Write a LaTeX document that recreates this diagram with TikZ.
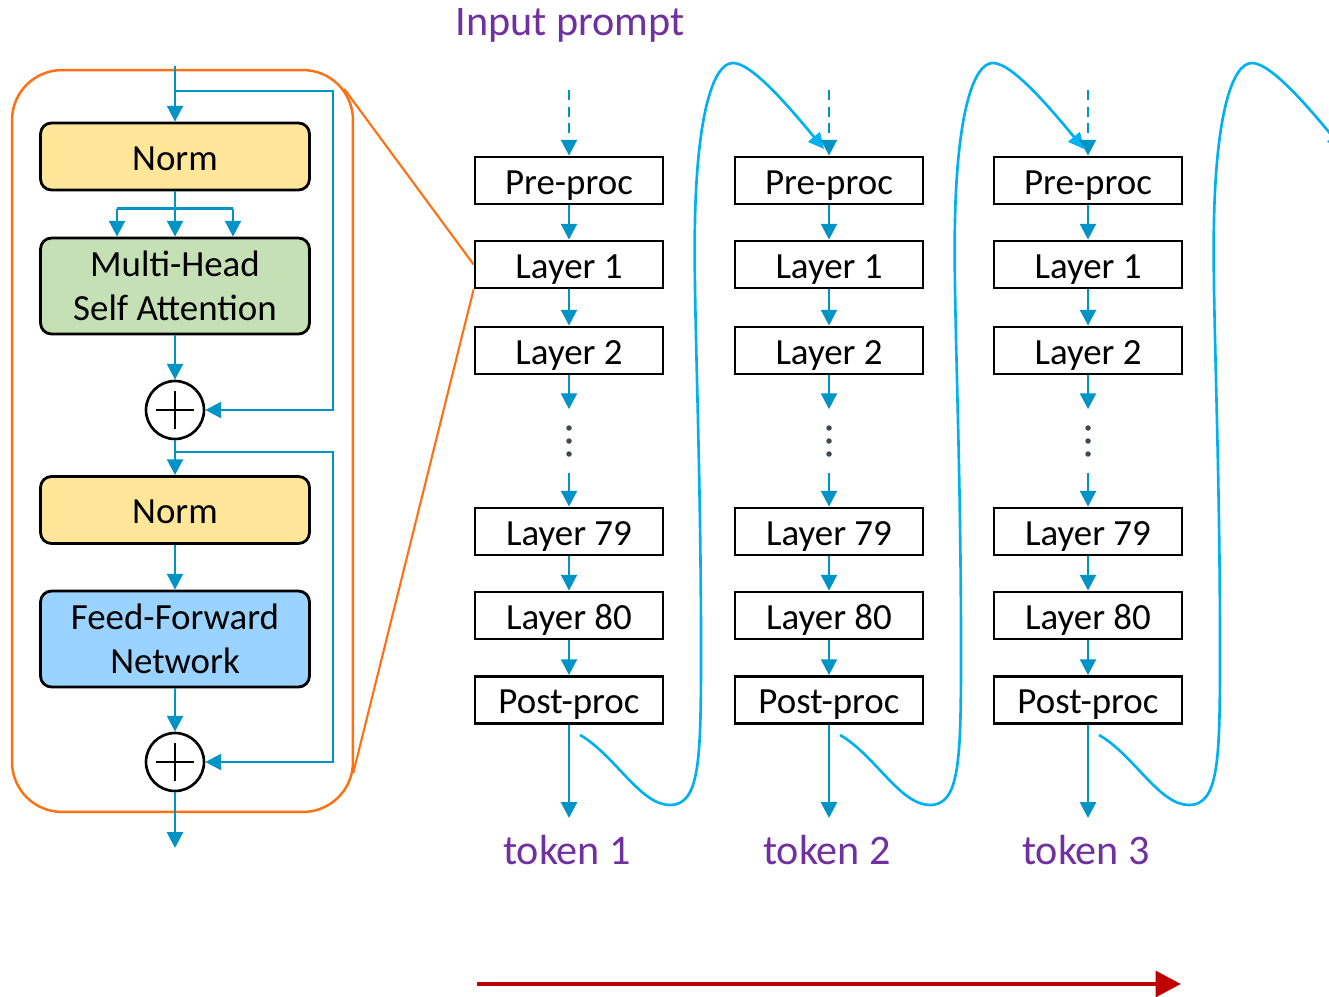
\documentclass[tikz,border=0pt]{standalone}
\usepackage{fontspec}
\setmainfont{Carlito}
\usetikzlibrary{arrows.meta,calc}

\definecolor{linkblue}{HTML}{0094C6}
\definecolor{loopblue}{HTML}{00B0F0}
\definecolor{normyellow}{HTML}{FFE699}
\definecolor{attgreen}{HTML}{C5E0B4}
\definecolor{ffnblue}{HTML}{9AD3FF}
\definecolor{labelpurple}{HTML}{7030A0}
\definecolor{zoomorange}{HTML}{FF7010}
\definecolor{timered}{HTML}{C00000}
\definecolor{dotgray}{HTML}{404850}

\newcommand\diagfont{\fontsize{21}{25}\selectfont}
\newcommand\labelfont{\fontsize{24}{28}\selectfont}

\begin{document}
\begin{tikzpicture}[x=0.02cm, y=-0.02cm,
  conn/.style={draw=linkblue, line width=1.6pt, -{Triangle[length=9pt,width=9pt]}},
  plainconn/.style={draw=linkblue, line width=1.6pt},
  feedback/.style={draw=loopblue, line width=1.5pt, -{Triangle[length=9pt,width=8.5pt]}},
  blockbox/.style={draw=black, line width=1.6pt, rounded corners=0.22cm,
    minimum width=5.38cm, inner sep=0pt, align=center, font=\diagfont},
  onerow/.style={text height=15.5pt, text depth=0pt},
  layerbox/.style={draw=black, line width=1.6pt, minimum width=3.76cm,
    minimum height=0.94cm, inner sep=0pt, font=\diagfont, onerow},
  addnode/.style={circle, draw=black, line width=1.5pt, minimum size=1.16cm,
    inner sep=0pt, fill=white},
  plusbar/.style={draw=black, line width=1.5pt},
  dotsnode/.style={minimum width=0.4cm, minimum height=1.26cm, inner sep=0pt},
  tokenlabel/.style={text=labelpurple, font=\labelfont, anchor=base, inner sep=0pt},
  zoomline/.style={draw=zoomorange, line width=1.2pt},
  timearrow/.style={draw=timered, line width=2.8pt, -{Triangle[length=14.5pt,width=14.5pt]}}
]
\clip (0,0) rectangle (1329,997);

% ---------- decoder block ----------
\node[draw=zoomorange, line width=1.4pt, rounded corners=1cm,
      minimum width=6.82cm, minimum height=14.84cm] (blockframe) at (182.5,441) {};

\node[blockbox, fill=normyellow, minimum height=1.34cm, onerow] (norm1) at (175,156.5) {Norm};
\node[blockbox, fill=attgreen, minimum height=1.92cm] (mhsa) at (175,286) {Multi-Head\\Self Attention};
\node[addnode] (add1) at (175,410) {};
\node[blockbox, fill=normyellow, minimum height=1.34cm, onerow] (norm2) at (175,510) {Norm};
\node[blockbox, fill=ffnblue, minimum height=1.92cm] (ffn) at (175,639) {Feed-Forward\\Network};
\node[addnode] (add2) at (175,762) {};

\foreach \n in {add1,add2}{
  \draw[plusbar] ($(\n.center)+(-19,0)$) -- ($(\n.center)+(19,0)$);
  \draw[plusbar] ($(\n.center)+(0,-19)$) -- ($(\n.center)+(0,19)$);
}

\coordinate (blockin) at (175,66);
\coordinate (res1) at (175,91);
\coordinate (res2) at (175,452);
\coordinate (blockout) at (175,848);

\draw[conn] (blockin) -- (norm1);
\draw[conn] (res1) -- ++(158,0) |- (add1.east);
\draw[plainconn] ($(mhsa.north)+(-58,-28)$) -- ($(mhsa.north)+(58,-28)$);
\draw[conn] (norm1) -- (mhsa);
\draw[conn] ($(mhsa.north)+(-58,-28)$) -- ($(mhsa.north)+(-58,0)$);
\draw[conn] ($(mhsa.north)+(58,-28)$) -- ($(mhsa.north)+(58,0)$);
\draw[conn] (mhsa) -- (add1);
\draw[conn] (add1) -- (norm2);
\draw[conn] (res2) -- ++(158,0) |- (add2.east);
\draw[conn] (norm2) -- (ffn);
\draw[conn] (ffn) -- (add2);
\draw[conn] (add2) -- (blockout);

% ---------- prompt label ----------
\node[tokenlabel] (prompt) at (570,36) {Input prompt};

% ---------- one decoding step per column ----------
\foreach \c/\cx in {1/569, 2/829, 3/1088}{
  \node[layerbox] (pre\c)  at (\cx,180.5) {Pre-proc};
  \node[layerbox] (la\c)   at (\cx,264.5) {Layer 1};
  \node[layerbox] (lb\c)   at (\cx,350.5) {Layer 2};
  \node[dotsnode] (dots\c) at (\cx,441) {};
  \node[layerbox] (lc\c)   at (\cx,531.5) {Layer 79};
  \node[layerbox] (ld\c)   at (\cx,615.5) {Layer 80};
  \node[layerbox] (post\c) at (\cx,700) {Post-proc};
  \coordinate (src\c) at (\cx,90);
  \coordinate (out\c) at (\cx,818);
  \node[tokenlabel] (tok\c) at (\cx-2,864) {token \c};

  \foreach \dy in {-13,0,13}
    \fill[dotgray] ($(dots\c.center)+(0,\dy)$) circle[radius=0.055cm];

  \draw[conn, dash pattern=on 5.7pt off 3.7pt] (src\c) -- (pre\c);
  \draw[conn] (pre\c) -- (la\c);
  \draw[conn] (la\c) -- (lb\c);
  \draw[conn] (lb\c) -- (dots\c);
  \draw[conn] (dots\c) -- (lc\c);
  \draw[conn] (lc\c) -- (ld\c);
  \draw[conn] (ld\c) -- (post\c);
  \draw[conn] (post\c) -- (out\c);

  % generated token fed back into the next step
  \coordinate (fb\c) at (\cx+11,735);
  \coordinate (nx\c) at (\cx+255,149);
  \draw[feedback] (fb\c)
    .. controls (\cx+46,755) and (\cx+71,805) .. (\cx+101,805)
    .. controls (\cx+131,805) and (\cx+132,760) .. (\cx+132,650)
    .. controls (\cx+132,450) and (\cx+124,300) .. (\cx+126,220)
    .. controls (\cx+128,120) and (\cx+143,63) .. (\cx+164,63)
    .. controls (\cx+183,63) and (\cx+221,108) .. (nx\c);
}

% ---------- zoom lines from the block to Layer 1 ----------
\draw[zoomline] ($(blockframe.north east)+(-10,20)$) -- (la1.west);
\draw[zoomline] ($(blockframe.south east)+(-1,-40)$) -- (la1.south west);

% ---------- time axis ----------
\coordinate (tstart) at (477,984);
\coordinate (tend) at (1181,984);
\draw[timearrow] (tstart) -- (tend);
\end{tikzpicture}
\end{document}
